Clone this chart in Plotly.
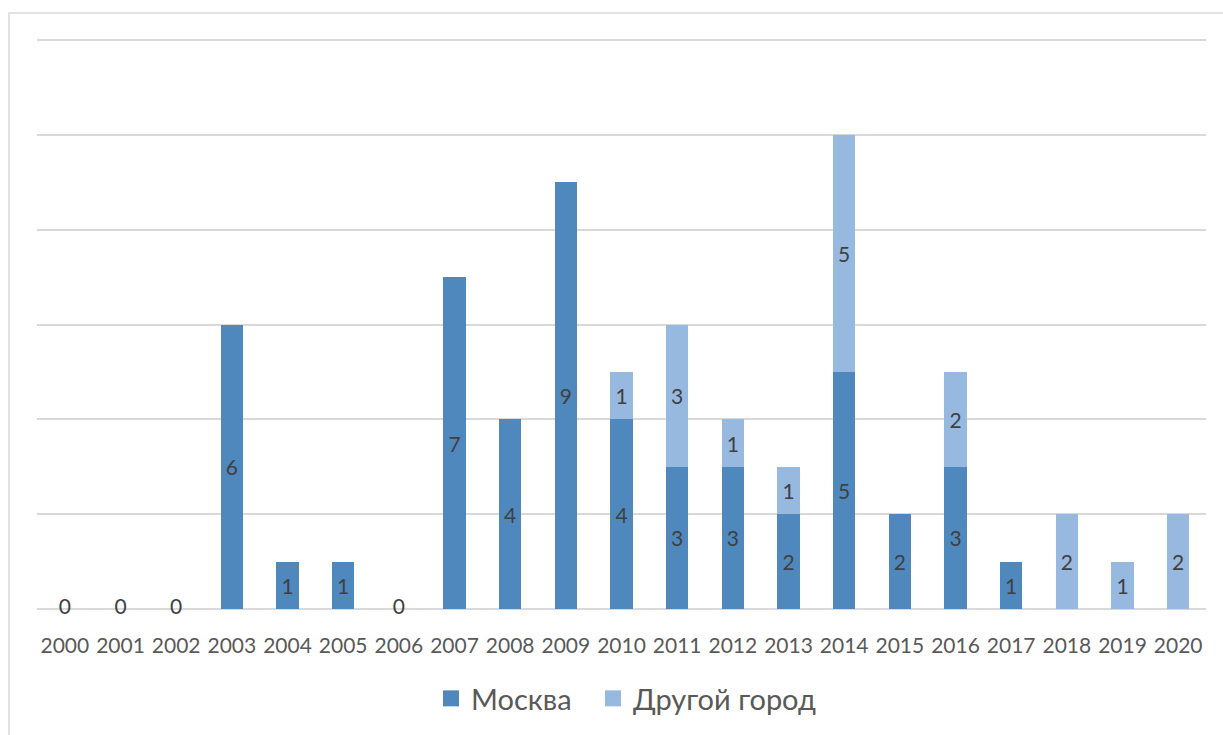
import plotly.graph_objects as go

years = [str(y) for y in range(2000, 2021)]
moscow = [0, 0, 0, 6, 1, 1, 0, 7, 4, 9, 4, 3, 3, 2, 5, 2, 3, 1, 0, 0, 0]
other = [0, 0, 0, 0, 0, 0, 0, 0, 0, 0, 1, 3, 1, 1, 5, 0, 2, 0, 2, 1, 2]
# Moscow labels shown for every year through 2017 (zeros included)
moscow_labels = [str(v) for v in moscow[:18]] + ["", "", ""]
other_labels = [str(v) if v else "" for v in other]
series_names = ["Москва", "Другой город"]

DARK = "#4F88BD"
LIGHT = "#97B9E0"
TXT = "#404040"
AXIS_TXT = "#595959"
GRID = "#D9D9D9"
FONT = "Lato"
LABEL_SIZE = 21

W, H = 1223, 735
# a little head-room above the last gridline so it is drawn
Y_MAX = 12.3
L, R, T, B = 37, 17, 26, 126
pw, ph = W - L - R, H - T - B


def px_x(px):
    return (px - L) / pw


def px_y(py):
    return (T + ph - py) / ph


fig = go.Figure()
for vals, labels, color, name in [(moscow, moscow_labels, DARK, series_names[0]),
                                  (other, other_labels, LIGHT, series_names[1])]:
    fig.add_trace(go.Bar(
        x=years, y=vals, name=name, showlegend=False,
        marker=dict(color=color, line=dict(width=0)),
        text=labels, textposition="inside", insidetextanchor="middle",
        textangle=0, textfont=dict(family=FONT, size=LABEL_SIZE, color=TXT),
        hoverinfo="x+y",
    ))

# zero-height bars get their "0" label on the baseline
zero_x = [y for y, v, t in zip(years, moscow, moscow_labels) if v == 0 and t]
fig.add_trace(go.Scatter(
    x=zero_x, y=[0] * len(zero_x), mode="text", text=["0"] * len(zero_x),
    textposition="middle center", cliponaxis=False,
    textfont=dict(family=FONT, size=LABEL_SIZE, color=TXT),
    showlegend=False, hoverinfo="skip",
))

# legend entries with larger square swatches, one legend box per series
for color, name, lg in [(DARK, series_names[0], "legend"), (LIGHT, series_names[1], "legend2")]:
    fig.add_trace(go.Scatter(
        x=[None], y=[None], mode="markers", name=name, legend=lg,
        marker=dict(symbol="square", size=16, color=color), hoverinfo="skip",
    ))

legend_common = dict(orientation="h", xanchor="left", yref="container", yanchor="top",
                     y=1 - 673 / H, font=dict(family=FONT, size=29, color=AXIS_TXT),
                     itemwidth=30, bgcolor="rgba(0,0,0,0)")

fig.update_layout(
    width=W, height=H, barmode="stack", bargap=0.6,
    margin=dict(l=L, r=R, t=T, b=B, autoexpand=False),
    plot_bgcolor="white", paper_bgcolor="white",
    font=dict(family=FONT, color=AXIS_TXT),
    uniformtext=dict(minsize=LABEL_SIZE, mode="show"),
    legend=dict(x=px_x(431), **legend_common),
    legend2=dict(x=px_x(593), **legend_common),
    xaxis=dict(range=[-0.5, 20.5], showgrid=False, showline=False, ticks="outside",
               ticklen=18, tickcolor="rgba(0,0,0,0)",
               tickfont=dict(family=FONT, size=LABEL_SIZE, color=AXIS_TXT)),
    yaxis=dict(range=[0, Y_MAX], dtick=2, showticklabels=False, gridcolor=GRID,
               gridwidth=1.5, zeroline=True, zerolinecolor=GRID, zerolinewidth=1.5,
               showline=False),
    shapes=[dict(type="rect", xref="paper", yref="paper",
                 x0=px_x(9), x1=px_x(1240), y0=px_y(760), y1=px_y(13),
                 line=dict(color=GRID, width=1.5), layer="below")],
)

fig.write_html("out.html")
